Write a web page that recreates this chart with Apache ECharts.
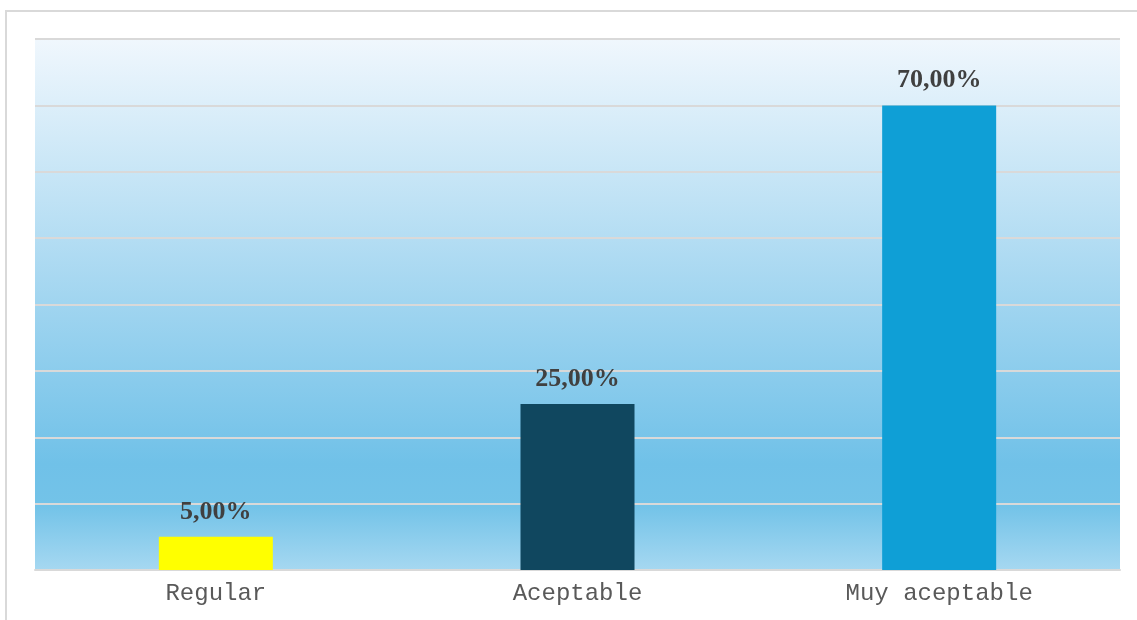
<!DOCTYPE html>
<html>
<head>
<meta charset="utf-8">
<script src="https://cdn.jsdelivr.net/npm/echarts@6/dist/echarts.min.js"></script>
<style>
html,body{margin:0;padding:0;background:#fff;}
#chart{width:1137px;height:620px;}
</style>
</head>
<body>
<div id="chart"></div>
<script>
var categories = ['Regular', 'Aceptable', 'Muy aceptable'];
var values = [5, 25, 70];
var barColors = ['#ffff00', '#10475f', '#0f9fd6'];

var chart = echarts.init(document.getElementById('chart'));
chart.setOption({
  animation: false,
  graphic: [{
    type: 'rect',
    shape: {x: 6, y: 11, width: 1300, height: 800},
    style: {fill: 'none', stroke: '#d9d9d9', lineWidth: 2},
    z: -10
  }],
  grid: {
    left: 35, right: 17, top: 39, bottom: 50,
    show: true,
    borderWidth: 0,
    backgroundColor: new echarts.graphic.LinearGradient(0, 0, 0, 1, [
      {offset: 0, color: '#f0f7fd'},
      {offset: 0.45, color: '#a8d8f1'},
      {offset: 0.8, color: '#70c1e8'},
      {offset: 0.88, color: '#73c3e8'},
      {offset: 1, color: '#a6d8f1'}
    ])
  },
  xAxis: {
    type: 'category',
    data: categories,
    axisLine: {lineStyle: {color: '#d9d9d9', width: 2}},
    axisTick: {show: false},
    axisLabel: {
      fontFamily: 'Liberation Mono',
      fontSize: 24,
      color: '#595959',
      margin: 12
    }
  },
  yAxis: {
    type: 'value',
    min: 0, max: 80, interval: 10,
    axisLabel: {show: false},
    axisLine: {show: false},
    axisTick: {show: false},
    splitLine: {lineStyle: {color: '#d9d9d9', width: 2}}
  },
  series: [{
    type: 'bar',
    barWidth: 114,
    data: values.map(function (v, i) {
      return {value: v, itemStyle: {color: barColors[i]}};
    }),
    label: {
      show: true,
      position: 'top',
      distance: 12,
      fontFamily: 'Liberation Serif',
      fontWeight: 'bold',
      fontSize: 26,
      color: '#404040',
      formatter: function (p) {
        return p.value.toFixed(2).replace('.', ',') + '%';
      }
    }
  }]
});
</script>
</body>
</html>
